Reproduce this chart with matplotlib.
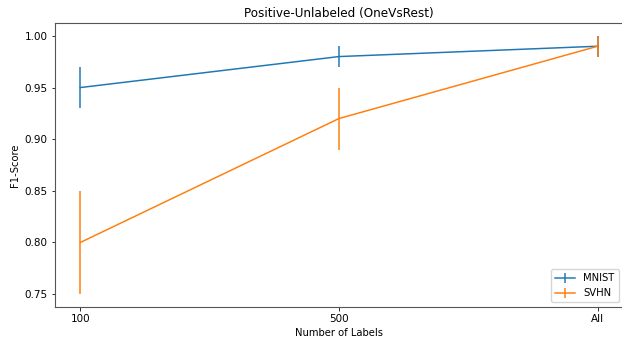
import matplotlib.pyplot as plt

# Data
labels = ['100', '500', 'All']
mnist_mean = [0.95, 0.98, 0.99]
mnist_err = [0.02, 0.01, 0.01]
svhn_mean = [0.80, 0.92, 0.99]
svhn_err = [0.05, 0.03, 0.01]

s = 0.72  # the reference looks like a shrunk default-style figure
plt.rcParams.update({
    'axes.linewidth': 0.8,
    'axes.edgecolor': '#555555',
    'xtick.major.size': 3.5 * s,
    'ytick.major.size': 3.5 * s,
    'xtick.major.width': 0.8 * s,
    'ytick.major.width': 0.8 * s,
    'xtick.major.pad': 3.5 * s,
    'ytick.major.pad': 3.5 * s,
    'axes.labelpad': 4.0 * s,
    'axes.titlepad': 6.0 * s,
})

fig = plt.figure(figsize=(6.22, 3.39), dpi=100)
# right edge sits just past the image border, as in the reference
ax = fig.add_axes([54.5 / 622, 32 / 339, 569 / 622, 284 / 339])
ax.spines['right'].set_visible(False)

x = range(len(labels))
ax.errorbar(x, mnist_mean, yerr=mnist_err, label='MNIST', color='tab:blue', linewidth=1.5 * s)
ax.errorbar(x, svhn_mean, yerr=svhn_err, label='SVHN', color='tab:orange', linewidth=1.5 * s)

ax.set_xticks(list(x))
ax.set_xticklabels(labels)
ax.set_xlabel('Number of Labels', fontsize=10 * s)
ax.set_ylabel('F1-Score', fontsize=10 * s)
ax.set_title('Positive-Unlabeled (OneVsRest)', fontsize=12 * s)
ax.tick_params(axis='both', labelsize=7.5)
ax.legend(loc='lower right', fontsize=10 * s)

fig.savefig('out.png', dpi=100)
